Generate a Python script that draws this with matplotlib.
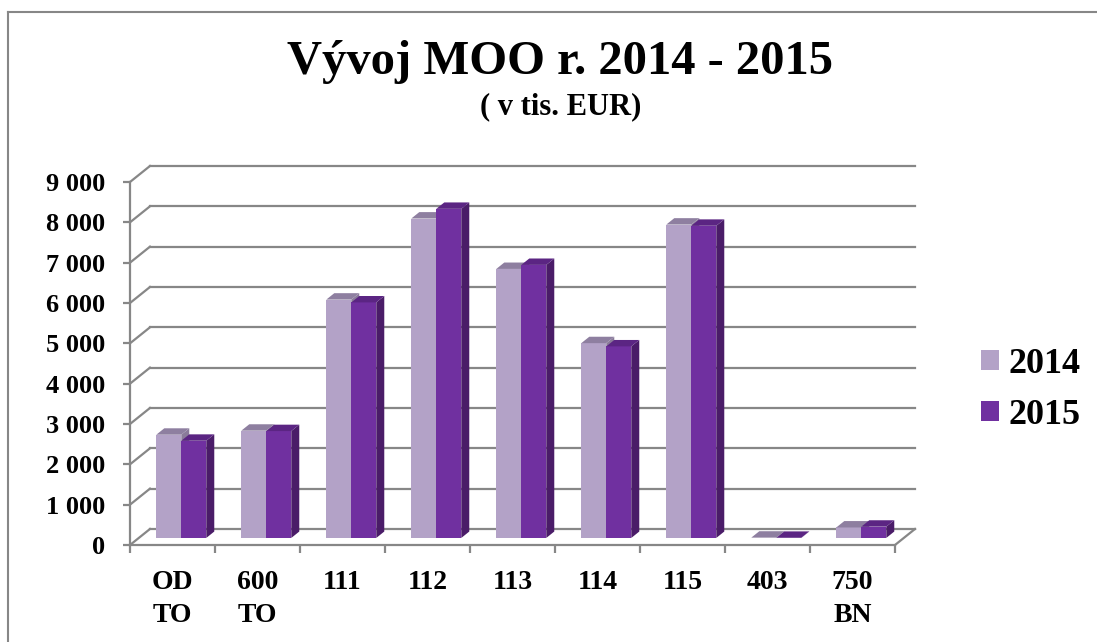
import numpy as np
import matplotlib.pyplot as plt
from matplotlib.patches import Polygon, Patch
from matplotlib.lines import Line2D

# data (thousand EUR)
categories = ["OD\nTO", "600\nTO", "111", "112", "113", "114", "115", "403", "750\nBN"]
years = ["2014", "2015"]
values_2014 = [2560, 2660, 5910, 7920, 6670, 4830, 7770, 8, 260]
values_2015 = [2410, 2650, 5840, 8160, 6770, 4750, 7740, 4, 280]
y_ticks = list(range(0, 9001, 1000))
y_tick_labels = [f"{v:,}".replace(",", " ") for v in y_ticks]

front_colors = ["#B3A2C7", "#7030A0"]
top_colors = ["#8E7FA0", "#5B2583"]
side_colors = ["#8A7B9A", "#4A1C68"]
grid_color = "#878787"

plt.rcParams['font.family'] = ['Liberation Serif', 'DejaVu Serif']
plt.rcParams['font.weight'] = 'bold'

W, H = 1097, 642
fig = plt.figure(figsize=(W / 100, H / 100), dpi=100)
ax = fig.add_axes([130 / W, 97 / H, 765 / W, 363 / H])
n = len(categories)
ax.set_xlim(0, n)
ax.set_ylim(0, 9000)

# oblique depth of the 3d box, in data units
DX, DY = 0.235, 397
bar_w = 0.294
bar_f0, bar_f1 = 0.44, 0.84   # front/back depth fraction of the bars

# walls: back gridlines + left wall diagonals
for v in y_ticks:
    ax.plot([DX, n + DX], [v + DY, v + DY], color=grid_color, lw=1.6, clip_on=False, zorder=1)
    ax.plot([0, DX], [v, v + DY], color=grid_color, lw=1.6, clip_on=False, zorder=1)
# right floor edge
ax.plot([n, n + DX], [0, DY], color=grid_color, lw=1.6, clip_on=False, zorder=1)

# bars
z = 3
for i in range(n):
    for s, vals in enumerate([values_2014, values_2015]):
        v = vals[i]
        x0 = i + 0.5 - bar_w + s * bar_w + bar_f0 * DX
        y0 = bar_f0 * DY
        ddx = (bar_f1 - bar_f0) * DX
        ddy = (bar_f1 - bar_f0) * DY
        ax.add_patch(Polygon([(x0, y0), (x0 + bar_w, y0), (x0 + bar_w, y0 + v), (x0, y0 + v)],
                             closed=True, fc=front_colors[s], ec='none', zorder=z, clip_on=False))
        ax.add_patch(Polygon([(x0 + bar_w, y0), (x0 + bar_w + ddx, y0 + ddy),
                              (x0 + bar_w + ddx, y0 + v + ddy), (x0 + bar_w, y0 + v)],
                             closed=True, fc=side_colors[s], ec='none', zorder=z, clip_on=False))
        ax.add_patch(Polygon([(x0, y0 + v), (x0 + bar_w, y0 + v), (x0 + bar_w + ddx, y0 + v + ddy),
                              (x0 + ddx, y0 + v + ddy)],
                             closed=True, fc=top_colors[s], ec='none', zorder=z, clip_on=False))
        z += 1

# axes
for side in ['top', 'right']:
    ax.spines[side].set_visible(False)
for side in ['left', 'bottom']:
    ax.spines[side].set_color(grid_color)
    ax.spines[side].set_linewidth(1.6)
    ax.spines[side].set_zorder(2)
ax.set_yticks(y_ticks)
ax.set_yticklabels(y_tick_labels, fontsize=19, fontweight='bold')
ax.tick_params(axis='y', length=5, width=1.6, color=grid_color, pad=13)
ax.set_xticks(np.arange(0, n + 1))
ax.set_xticklabels([])
ax.tick_params(axis='x', which='major', length=6, width=1.6, color=grid_color)
ax.set_xticks(np.arange(n) + 0.5, minor=True)
ax.set_xticklabels(categories, minor=True, fontsize=20, fontweight='bold', linespacing=1.4)
ax.tick_params(axis='x', which='minor', length=0, pad=18)
ax.patch.set_visible(False)

# titles
fig.text(560 / W, 1 - 62 / H, "Vývoj MOO r. 2014 - 2015", ha='center', va='center',
         fontsize=35, fontweight='bold')
fig.text(561 / W, 1 - 107 / H, "( v tis. EUR)", ha='center', va='center',
         fontsize=22, fontweight='bold')

# legend
handles = [Patch(facecolor=c, edgecolor='none') for c in front_colors]
fig.legend(handles, years, loc='center left', bbox_to_anchor=(981 / W, 1 - 390 / H),
           frameon=False, prop={'size': 26, 'weight': 'bold'}, handlelength=0.5,
           handleheight=0.5, handletextpad=0.25, labelspacing=0.5, borderpad=0,
           borderaxespad=0)

# outer border (top and left only visible)
fig.add_artist(Line2D([8 / W, 1], [1 - 12 / H, 1 - 12 / H], color=grid_color, lw=1.5,
                      transform=fig.transFigure))
fig.add_artist(Line2D([8 / W, 8 / W], [0, 1 - 12 / H], color=grid_color, lw=1.5,
                      transform=fig.transFigure))

fig.savefig("out.png", dpi=100)
